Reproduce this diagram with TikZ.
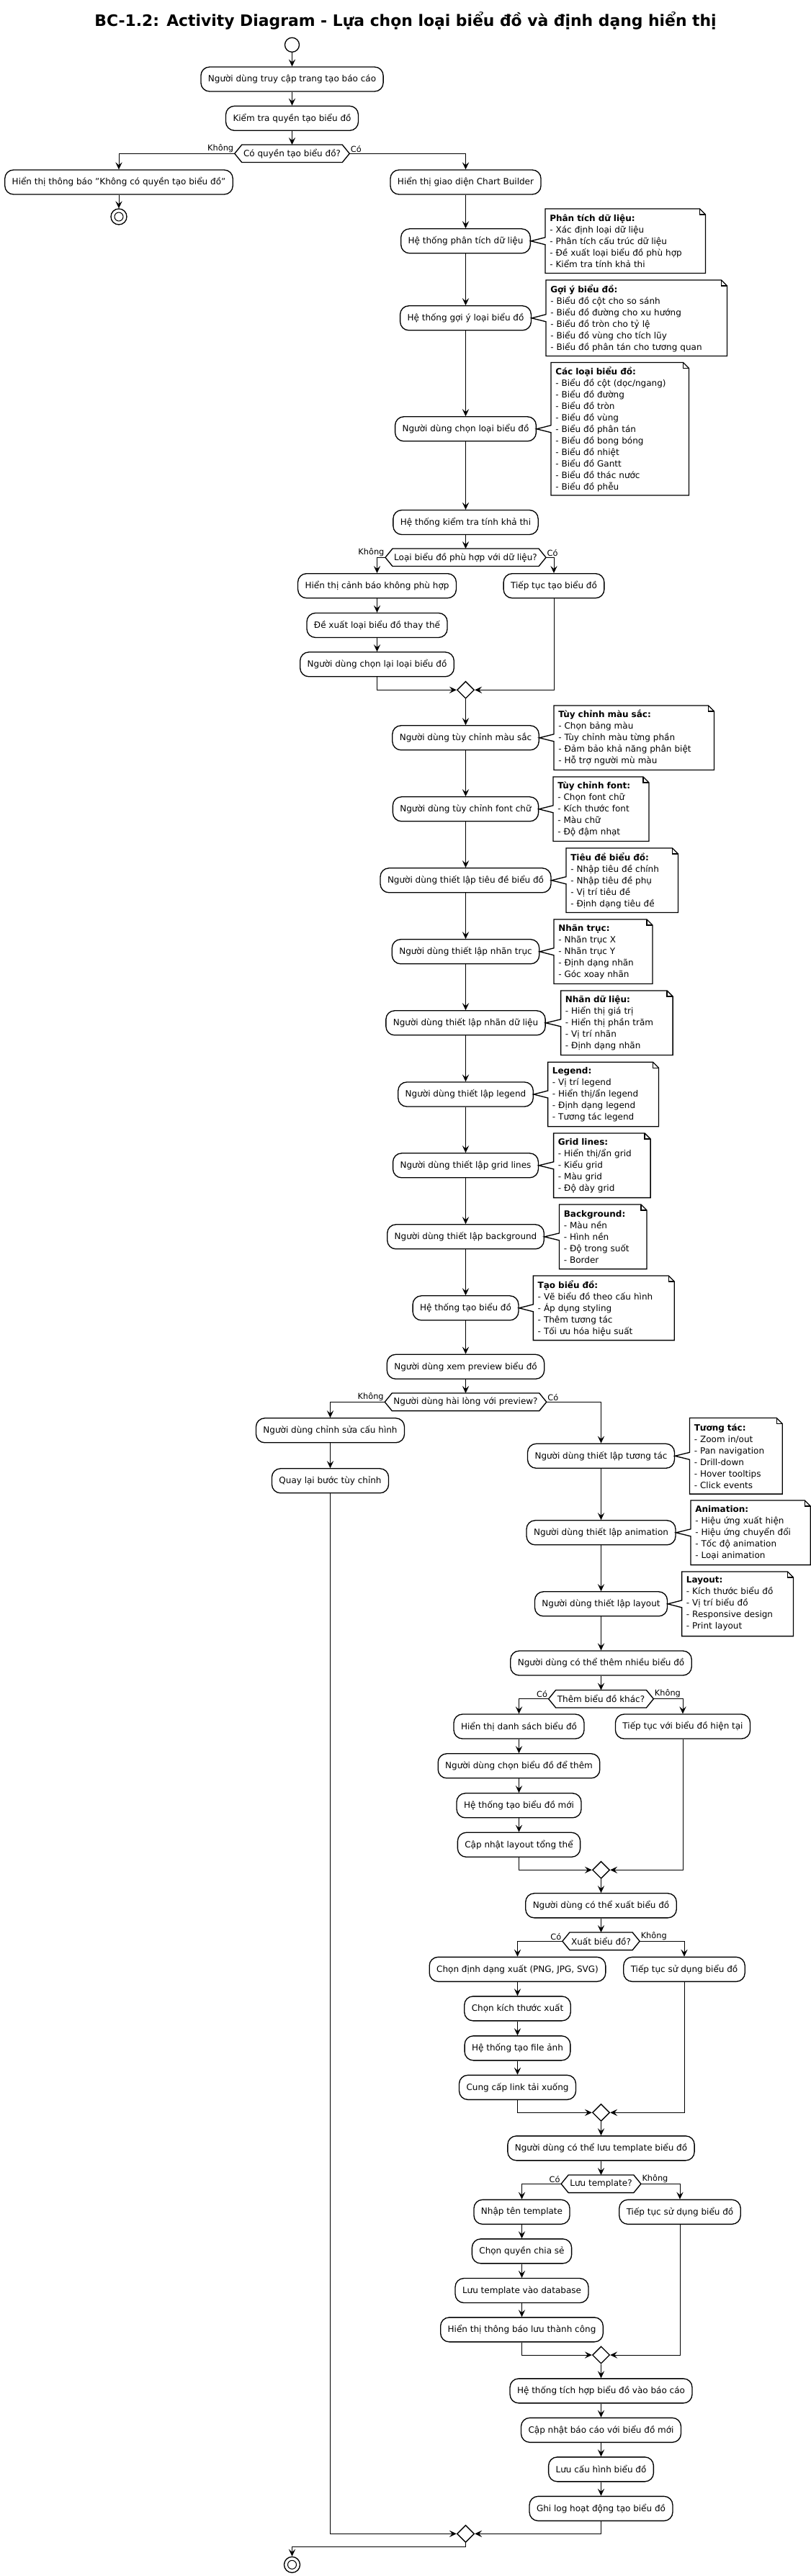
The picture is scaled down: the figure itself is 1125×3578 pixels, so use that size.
\documentclass[tikz,border=0pt]{standalone}
\usepackage{fontspec}
\setmainfont{DejaVu Sans}
\usetikzlibrary{arrows.meta,shapes.geometric,calc}
\tikzset{
  act/.style={draw, line width=1pt, rounded corners=9pt, fill=white, inner xsep=7.5pt, inner ysep=0pt, minimum height=25.5pt, font=\fontsize{9}{11}\selectfont},
  dec/.style={inner xsep=9pt, inner ysep=0pt, minimum height=18pt, font=\fontsize{9}{11}\selectfont},
  mergenode/.style={diamond, draw, line width=1pt, aspect=1, minimum width=18pt, minimum height=18pt, inner sep=0pt, fill=white},
  startnode/.style={circle, draw, line width=1pt, minimum size=15pt, inner sep=0pt, fill=white},
  endnode/.style={circle, draw, line width=1pt, minimum size=16.5pt, inner sep=0pt, fill=white, path picture={\draw[line width=0.8pt] (path picture bounding box.center) circle (4.5pt);}},
  arr/.style={draw, line width=0.75pt, -{Stealth[length=7.5pt,width=7pt,inset=3pt]}},
  lbl/.style={font=\fontsize{8.5}{10}\selectfont, inner sep=1pt},
  notebox/.style 2 args={align=left, text width=#2, minimum height=#1, inner xsep=4.5pt, inner ysep=0pt, font=\fontsize{9}{12}\selectfont, anchor=west},
  noteline/.style={line width=1pt},
  hexline/.style={line width=1pt},
}
\newcommand\drawnote[2]{%
  \draw[noteline] (#1.north west) -- ($(#1.north east)+(-8,0)$) -- ($(#1.north east)+(0,8)$) -- (#1.south east) -- (#1.south west) -- ($(#1.west |- #2.center)+(0,5)$) -- (#2.east) -- ($(#1.west |- #2.center)+(0,-5)$) -- cycle;
  \draw[noteline] ($(#1.north east)+(-8,0)$) -- ($(#1.north east)+(-8,8)$) -- ($(#1.north east)+(0,8)$);
}
\newcommand\drawhex[1]{%
  \draw[hexline] (#1.west) -- ($(#1.north west)+(10,0)$) -- ($(#1.north east)+(-10,0)$) -- (#1.east) -- ($(#1.south east)+(-10,0)$) -- ($(#1.south west)+(10,0)$) -- cycle;
}
\begin{document}
\begin{tikzpicture}[x=0.75pt,y=-0.75pt]
\fill[white] (0,0) rectangle (1125,3578);
\useasboundingbox (0,0) rectangle (1125,3578);

\node[font=\bfseries\fontsize{16.4}{19}\selectfont] (title) at (563,29) {BC-1.2: Activity Diagram - Lựa chọn loại biểu đồ và định dạng hiển thị};

% ---- nodes ----
\node[startnode] (start) at (405.5,62.3) {};
\node[act] (b1) at (405.5,110) {Người dùng truy cập trang tạo báo cáo};
\node[act] (b2) at (405.5,164.3) {Kiểm tra quyền tạo biểu đồ};
\node[dec] (d1) at (405.5,213.3) {Có quyền tạo biểu đồ?};
\node[act] (b3) at (165,253) {Hiển thị thông báo "Không có quyền tạo biểu đồ"};
\node[act] (b4) at (646.5,253) {Hiển thị giao diện Chart Builder};
\node[endnode] (end1) at (165,301) {};
\node[act] (b5) at (646.5,334.8) {Hệ thống phân tích dữ liệu};
\node[act] (b6) at (646.5,441.8) {Hệ thống gợi ý loại biểu đồ};
\node[act] (b7) at (646.5,595.8) {Người dùng chọn loại biểu đồ};
\node[act] (b8) at (646.5,725.5) {Hệ thống kiểm tra tính khả thi};
\node[dec] (d2) at (646.5,774.3) {Loại biểu đồ phù hợp với dữ liệu?};
\node[act] (b9) at (523.5,813.7) {Hiển thị cảnh báo không phù hợp};
\node[act] (b10) at (769,813.7) {Tiếp tục tạo biểu đồ};
\node[act] (b11) at (523.5,868.5) {Đề xuất loại biểu đồ thay thế};
\node[act] (b12) at (523.5,922.8) {Người dùng chọn lại loại biểu đồ};
\node[mergenode] (m1) at (646.5,958.3) {};
\node[act] (b13) at (646.5,1024.8) {Người dùng tùy chỉnh màu sắc};
\node[act] (b14) at (646.5,1123.8) {Người dùng tùy chỉnh font chữ};
\node[act] (b15) at (646.5,1222.8) {Người dùng thiết lập tiêu đề biểu đồ};
\node[act] (b16) at (646.5,1321.8) {Người dùng thiết lập nhãn trục};
\node[act] (b17) at (646.5,1420.8) {Người dùng thiết lập nhãn dữ liệu};
\node[act] (b18) at (646.5,1520) {Người dùng thiết lập legend};
\node[act] (b19) at (646.5,1618.8) {Người dùng thiết lập grid lines};
\node[act] (b20) at (646.5,1717.8) {Người dùng thiết lập background};
\node[act] (b21) at (646.5,1816.8) {Hệ thống tạo biểu đồ};
\node[act] (b22) at (646.5,1898.3) {Người dùng xem preview biểu đồ};
\node[dec] (d3) at (646.5,1947.3) {Người dùng hài lòng với preview?};
\node[act] (b23) at (458.5,1986.8) {Người dùng chỉnh sửa cấu hình};
\node[act] (b25) at (458.5,2056.8) {Quay lại bước tùy chỉnh};
\node[act] (b24) at (834.5,2022.3) {Người dùng thiết lập tương tác};
\node[act] (b26) at (834.5,2128.8) {Người dùng thiết lập animation};
\node[act] (b27) at (834.5,2227.8) {Người dùng thiết lập layout};
\node[act] (b28) at (834.5,2310) {Người dùng có thể thêm nhiều biểu đồ};
\node[dec] (d4) at (834.5,2359.7) {Thêm biểu đồ khác?};
\node[act] (b29) at (720.5,2398) {Hiển thị danh sách biểu đồ};
\node[act] (b30) at (948,2398) {Tiếp tục với biểu đồ hiện tại};
\node[act] (b31) at (720.5,2452.8) {Người dùng chọn biểu đồ để thêm};
\node[act] (b32) at (720.5,2507.8) {Hệ thống tạo biểu đồ mới};
\node[act] (b33) at (720.5,2562.3) {Cập nhật layout tổng thể};
\node[mergenode] (m2) at (834.5,2597.3) {};
\node[act] (b34) at (834.5,2646.8) {Người dùng có thể xuất biểu đồ};
\node[dec] (d5) at (834.5,2696.3) {Xuất biểu đồ?};
\node[act] (b35) at (718.5,2735.3) {Chọn định dạng xuất (PNG, JPG, SVG)};
\node[act] (b36) at (950,2735.3) {Tiếp tục sử dụng biểu đồ};
\node[act] (b37) at (718.5,2789.8) {Chọn kích thước xuất};
\node[act] (b38) at (718.5,2844.8) {Hệ thống tạo file ảnh};
\node[act] (b39) at (718.5,2899.3) {Cung cấp link tải xuống};
\node[mergenode] (m3) at (834.5,2934.3) {};
\node[act] (b40) at (834.5,2983.8) {Người dùng có thể lưu template biểu đồ};
\node[dec] (d6) at (834.5,3033.3) {Lưu template?};
\node[act] (b41) at (724.5,3072.3) {Nhập tên template};
\node[act] (b42) at (944,3072.3) {Tiếp tục sử dụng biểu đồ};
\node[act] (b43) at (724.5,3126.8) {Chọn quyền chia sẻ};
\node[act] (b44) at (724.5,3181.5) {Lưu template vào database};
\node[act] (b45) at (724.5,3235.8) {Hiển thị thông báo lưu thành công};
\node[mergenode] (m4) at (834.5,3271) {};
\node[act] (b46) at (834.5,3320.8) {Hệ thống tích hợp biểu đồ vào báo cáo};
\node[act] (b47) at (834.5,3375.3) {Cập nhật báo cáo với biểu đồ mới};
\node[act] (b48) at (834.5,3429.8) {Lưu cấu hình biểu đồ};
\node[act] (b49) at (834.5,3484.3) {Ghi log hoạt động tạo biểu đồ};
\node[mergenode] (m5) at (646.5,3519.3) {};
\node[endnode] (end2) at (405.5,3562.3) {};

\foreach \d in {d1,d2,d3,d4,d5,d6} {\drawhex{\d}}

% ---- labels ----
\node[lbl, anchor=south east] (l1a) at (d1.west) {Không};
\node[lbl, anchor=south west] (l1b) at (d1.east) {Có};
\node[lbl, anchor=south east] (l2a) at (d2.west) {Không};
\node[lbl, anchor=south west] (l2b) at (d2.east) {Có};
\node[lbl, anchor=south east] (l3a) at (d3.west) {Không};
\node[lbl, anchor=south west] (l3b) at (d3.east) {Có};
\node[lbl, anchor=south east] (l4a) at (d4.west) {Có};
\node[lbl, anchor=south west] (l4b) at (d4.east) {Không};
\node[lbl, anchor=south east] (l5a) at (d5.west) {Có};
\node[lbl, anchor=south west] (l5b) at (d5.east) {Không};
\node[lbl, anchor=south east] (l6a) at (d6.west) {Có};
\node[lbl, anchor=south west] (l6b) at (d6.east) {Không};

% ---- connectors ----
\draw[arr] (start) -- (b1);
\draw[arr] (b1) -- (b2);
\draw[arr] (b2) -- (d1);
\draw[arr] (d1.west) -| (b3.north);
\draw[arr] (d1.east) -| (b4.north);
\draw[arr] (b3) -- (end1);
\draw[arr] (b4) -- (b5);
\draw[arr] (b5) -- (b6);
\draw[arr] (b6) -- (b7);
\draw[arr] (b7) -- (b8);
\draw[arr] (b8) -- (d2);
\draw[arr] (d2.west) -| (b9.north);
\draw[arr] (d2.east) -| (b10.north);
\draw[arr] (b9) -- (b11);
\draw[arr] (b11) -- (b12);
\draw[arr] (b12.south) |- (m1.west);
\draw[arr] (b10.south) |- (m1.east);
\draw[arr] (m1) -- (b13);
\draw[arr] (b13) -- (b14);
\draw[arr] (b14) -- (b15);
\draw[arr] (b15) -- (b16);
\draw[arr] (b16) -- (b17);
\draw[arr] (b17) -- (b18);
\draw[arr] (b18) -- (b19);
\draw[arr] (b19) -- (b20);
\draw[arr] (b20) -- (b21);
\draw[arr] (b21) -- (b22);
\draw[arr] (b22) -- (d3);
\draw[arr] (d3.west) -| (b23.north);
\draw[arr] (d3.east) -| (b24.north);
\draw[arr] (b23) -- (b25);
\draw[arr] (b24) -- (b26);
\draw[arr] (b26) -- (b27);
\draw[arr] (b27) -- (b28);
\draw[arr] (b28) -- (d4);
\draw[arr] (d4.west) -| (b29.north);
\draw[arr] (d4.east) -| (b30.north);
\draw[arr] (b29) -- (b31);
\draw[arr] (b31) -- (b32);
\draw[arr] (b32) -- (b33);
\draw[arr] (b33.south) |- (m2.west);
\draw[arr] (b30.south) |- (m2.east);
\draw[arr] (m2) -- (b34);
\draw[arr] (b34) -- (d5);
\draw[arr] (d5.west) -| (b35.north);
\draw[arr] (d5.east) -| (b36.north);
\draw[arr] (b35) -- (b37);
\draw[arr] (b37) -- (b38);
\draw[arr] (b38) -- (b39);
\draw[arr] (b39.south) |- (m3.west);
\draw[arr] (b36.south) |- (m3.east);
\draw[arr] (m3) -- (b40);
\draw[arr] (b40) -- (d6);
\draw[arr] (d6.west) -| (b41.north);
\draw[arr] (d6.east) -| (b42.north);
\draw[arr] (b41) -- (b43);
\draw[arr] (b43) -- (b44);
\draw[arr] (b44) -- (b45);
\draw[arr] (b45.south) |- (m4.west);
\draw[arr] (b42.south) |- (m4.east);
\draw[arr] (m4) -- (b46);
\draw[arr] (b46) -- (b47);
\draw[arr] (b47) -- (b48);
\draw[arr] (b48) -- (b49);
\draw[arr] (b25.south) |- (m5.west);
\draw[arr] (b49.south) |- (m5.east);
\draw[arr] (m5.south) -- ++(0,5.4) -| (end2.north);

% ---- notes ----
\node[notebox={66.75pt}{157.5pt}] (n1) at (757,334.8) {\textbf{Phân tích dữ liệu:}\\- Xác định loại dữ liệu\\- Phân tích cấu trúc dữ liệu\\- Đề xuất loại biểu đồ phù hợp\\- Kiểm tra tính khả thi};
\drawnote{n1}{b5}
\node[notebox={78.75pt}{179.25pt}] (n2) at (758,441.8) {\textbf{Gợi ý biểu đồ:}\\- Biểu đồ cột cho so sánh\\- Biểu đồ đường cho xu hướng\\- Biểu đồ tròn cho tỷ lệ\\- Biểu đồ vùng cho tích lũy\\- Biểu đồ phân tán cho tương quan};
\drawnote{n2}{b6}
\node[notebox={138pt}{134.25pt}] (n3) at (765,595.8) {\textbf{Các loại biểu đồ:}\\- Biểu đồ cột (dọc/ngang)\\- Biểu đồ đường\\- Biểu đồ tròn\\- Biểu đồ vùng\\- Biểu đồ phân tán\\- Biểu đồ bong bóng\\- Biểu đồ nhiệt\\- Biểu đồ Gantt\\- Biểu đồ thác nước\\- Biểu đồ phễu};
\drawnote{n3}{b7}
\node[notebox={66.75pt}{157.5pt}] (n4) at (769,1024.8) {\textbf{Tùy chỉnh màu sắc:}\\- Chọn bảng màu\\- Tùy chỉnh màu từng phần\\- Đảm bảo khả năng phân biệt\\- Hỗ trợ người mù màu};
\drawnote{n4}{b13}
\node[notebox={66.75pt}{90.4pt}] (n5) at (768,1123.8) {\textbf{Tùy chỉnh font:}\\- Chọn font chữ\\- Kích thước font\\- Màu chữ\\- Độ đậm nhạt};
\drawnote{n5}{b14}
\node[notebox={66.75pt}{107.25pt}] (n6) at (786,1222.8) {\textbf{Tiêu đề biểu đồ:}\\- Nhập tiêu đề chính\\- Nhập tiêu đề phụ\\- Vị trí tiêu đề\\- Định dạng tiêu đề};
\drawnote{n6}{b15}
\node[notebox={66.75pt}{93.4pt}] (n7) at (769,1321.8) {\textbf{Nhãn trục:}\\- Nhãn trục X\\- Nhãn trục Y\\- Định dạng nhãn\\- Góc xoay nhãn};
\drawnote{n7}{b16}
\node[notebox={66.75pt}{107.25pt}] (n8) at (778.6,1420.8) {\textbf{Nhãn dữ liệu:}\\- Hiển thị giá trị\\- Hiển thị phần trăm\\- Vị trí nhãn\\- Định dạng nhãn};
\drawnote{n8}{b17}
\node[notebox={66.75pt}{106pt}] (n9) at (760.6,1520) {\textbf{Legend:}\\- Vị trí legend\\- Hiển thị/ẩn legend\\- Định dạng legend\\- Tương tác legend};
\drawnote{n9}{b18}
\node[notebox={66.75pt}{91.5pt}] (n10) at (768.6,1618.8) {\textbf{Grid lines:}\\- Hiển thị/ẩn grid\\- Kiểu grid\\- Màu grid\\- Độ dày grid};
\drawnote{n10}{b19}
\node[notebox={66.75pt}{81.75pt}] (n11) at (776.5,1717.8) {\textbf{Background:}\\- Màu nền\\- Hình nền\\- Độ trong suốt\\- Border};
\drawnote{n11}{b20}
\node[notebox={66.75pt}{137.5pt}] (n12) at (740.4,1816.8) {\textbf{Tạo biểu đồ:}\\- Vẽ biểu đồ theo cấu hình\\- Áp dụng styling\\- Thêm tương tác\\- Tối ưu hóa hiệu suất};
\drawnote{n12}{b21}
\node[notebox={78.75pt}{87.2pt}] (n13) at (957.5,2022.3) {\textbf{Tương tác:}\\- Zoom in/out\\- Pan navigation\\- Drill-down\\- Hover tooltips\\- Click events};
\drawnote{n13}{b24}
\node[notebox={66.75pt}{115.3pt}] (n14) at (959,2128.8) {\textbf{Animation:}\\- Hiệu ứng xuất hiện\\- Hiệu ứng chuyển đổi\\- Tốc độ animation\\- Loại animation};
\drawnote{n14}{b26}
\node[notebox={66.75pt}{106.8pt}] (n15) at (946.6,2227.8) {\textbf{Layout:}\\- Kích thước biểu đồ\\- Vị trí biểu đồ\\- Responsive design\\- Print layout};
\drawnote{n15}{b27}
\end{tikzpicture}
\end{document}
